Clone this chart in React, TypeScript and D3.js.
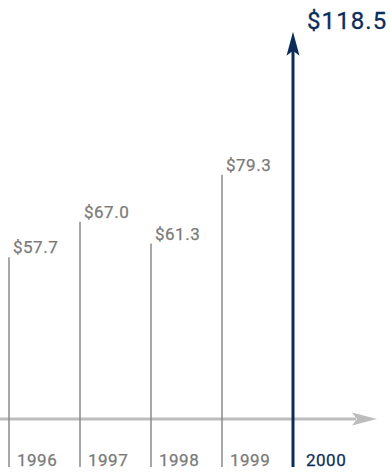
import React from "react";
import * as d3 from "d3";

const years = ["1996", "1997", "1998", "1999", "2000"];
const values = [57.7, 67.0, 61.3, 79.3, 118.5];
const valueLabels = ["$57.7", "$67.0", "$61.3", "$79.3", "$118.5"];
const highlight = [false, false, false, false, true];

const W = 390;
const H = 475;
const NAVY = "#0c2d5b";
const GREY = "#8a8a8a";
const GREY_TEXT = "#7a7a7a";
const AXIS = "#bdbdbd";
const FONT = "Roboto, 'Open Sans', sans-serif";

export default function App() {
  const x = d3.scalePoint<string>().domain(years).range([9, 293]);
  const y = d3.scaleLinear().domain([0, 125]).range([478, 0]);
  const baseY = 467;
  const axisY = 419;

  return (
    <svg
      width={W}
      height={H}
      style={{ position: "absolute", left: 0, top: 0, background: "#fff" }}
      fontFamily={FONT}
    >
      {/* horizontal axis */}
      <line x1={0} x2={356} y1={axisY} y2={axisY} stroke={AXIS} strokeWidth={3} />
      <path
        d={`M377,${axisY} L352,${axisY - 6.5} L357,${axisY} L352,${axisY + 6.5} Z`}
        fill={AXIS}
      />

      {years.map((yr, i) => {
        const cx = x(yr) as number;
        const hi = highlight[i];
        const top = hi ? y(values[i]) + 7 : y(values[i]);
        return (
          <g key={yr}>
            {hi ? (
              <>
                <line x1={cx} x2={cx} y1={baseY} y2={top + 18} stroke={NAVY} strokeWidth={3} />
                <path
                  d={`M${cx},${top} L${cx + 6.5},${top + 24} L${cx},${top + 19} L${cx - 6.5},${top + 24} Z`}
                  fill={NAVY}
                />
                <text
                  x={cx + 14}
                  y={top - 3}
                  fontSize={24}
                  letterSpacing={1.1}
                  fill={NAVY}
                  stroke={NAVY}
                  strokeWidth={0.3}
                >
                  {valueLabels[i]}
                </text>
              </>
            ) : (
              <>
                <line x1={cx} x2={cx} y1={baseY} y2={top} stroke={GREY} strokeWidth={1.5} />
                <text
                  x={cx + 4}
                  y={top - 4}
                  fontSize={17}
                  letterSpacing={0.5}
                  fill={GREY_TEXT}
                  stroke={GREY_TEXT}
                  strokeWidth={0.25}
                >
                  {valueLabels[i]}
                </text>
              </>
            )}
            <text
              x={cx + (hi ? 13 : 8)}
              y={466}
              fontSize={17}
              letterSpacing={0.5}
              fill={hi ? NAVY : GREY_TEXT}
              stroke={hi ? NAVY : GREY_TEXT}
              strokeWidth={0.25}
            >
              {yr}
            </text>
          </g>
        );
      })}
    </svg>
  );
}
